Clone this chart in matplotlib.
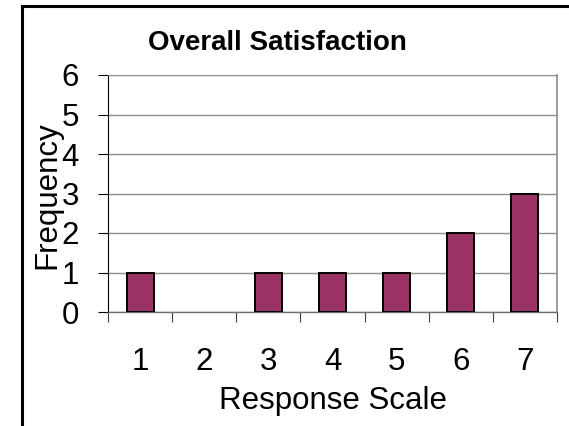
import matplotlib.pyplot as plt
from matplotlib.lines import Line2D

plt.rcParams['font.family'] = ['Liberation Sans', 'DejaVu Sans']

# response scale categories
scale = [1, 2, 3, 4, 5, 6, 7]

# frequency of each response
freq = [1, 0, 1, 1, 1, 2, 3]

yticks = [0, 1, 2, 3, 4, 5, 6]

W, H = 569, 426
fig = plt.figure(figsize=(W / 100, H / 100), dpi=100)

# plot area in pixels: left 108, right 557, top 75, bottom 312
ax = fig.add_axes([108 / W, 1 - 312 / H, (557 - 108) / W, (312 - 75) / H])

bars = ax.bar(scale, freq, width=0.42, color='#993366', edgecolor='black', linewidth=1.4, zorder=3)
# empty categories show no bar at all
for b, v in zip(bars, freq):
    if v == 0:
        b.set_visible(False)

ax.set_xlim(0.5, 7.5)
ax.set_ylim(0, 6)

ax.set_yticks(yticks)
ax.set_yticklabels([str(v) for v in yticks], fontsize=22.5)
ax.tick_params(axis='y', direction='out', length=7, width=0.8, pad=14, colors='black')

# category boundaries get the tick marks, centers get the labels
ax.set_xticks([s + 0.5 for s in [0] + scale])
ax.set_xticklabels([])
ax.set_xticks(scale, minor=True)
ax.set_xticklabels([str(s) for s in scale], minor=True, fontsize=22.5)
ax.tick_params(axis='x', which='major', direction='out', length=7.5, width=0.8, color='#404040')
ax.tick_params(axis='x', which='minor', length=0, pad=25)

ax.yaxis.grid(True, color='#8c8c8c', linewidth=1.0, zorder=0)
ax.set_axisbelow(True)

ax.spines['left'].set_color('black')
ax.spines['left'].set_linewidth(0.8)
ax.spines['bottom'].set_color('#707070')
ax.spines['bottom'].set_linewidth(1.0)
ax.spines['top'].set_color('#8c8c8c')
ax.spines['right'].set_color('#8c8c8c')
ax.spines['right'].set_linewidth(1.2)

fig.text(277 / W, 1 - 43 / H, 'Overall Satisfaction', fontsize=20, fontweight='bold',
         ha='center', va='center')
fig.text(333 / W, 1 - 401 / H, 'Response Scale', fontsize=22.5, ha='center', va='center')
fig.text(47 / W, 1 - 195 / H, 'Frequency', fontsize=22.5, rotation=90, ha='center', va='center')

# outer chart border (left and top only visible)
fig.add_artist(Line2D([22 / W, 22 / W], [0, 1 - 6 / H], transform=fig.transFigure,
                      color='black', linewidth=2.2))
fig.add_artist(Line2D([22 / W, 1], [1 - 6 / H, 1 - 6 / H], transform=fig.transFigure,
                      color='black', linewidth=2.2))

fig.savefig('out.png', dpi=100)
